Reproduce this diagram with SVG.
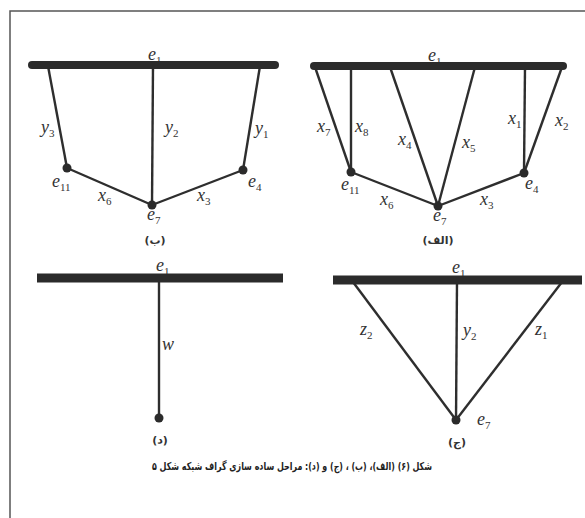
<svg xmlns="http://www.w3.org/2000/svg" width="585" height="518" viewBox="0 0 585 518">
<style>
.bar{stroke:#2b2b2b;stroke-width:8;stroke-linecap:round}
.bar2{stroke:#2b2b2b;stroke-width:9;stroke-linecap:butt}
.edge{stroke:#2e2e2e;stroke-width:2.4;fill:none}
.dot{fill:#2b2b2b}
.lbl{font-family:"Liberation Serif",serif;font-style:italic;font-size:18px;fill:#333}
.sub{font-size:11px;font-style:normal}
.fa{font-family:"DejaVu Sans","Noto Sans",sans-serif;font-size:11px;font-weight:bold;fill:#333;text-anchor:middle}
.cap{font-family:"DejaVu Sans","Noto Sans",sans-serif;font-size:11px;font-weight:bold;fill:#222;text-anchor:middle}
</style>
<rect width="585" height="518" fill="#fff"/>
<path d="M10 518 V11 H585" fill="none" stroke="#555" stroke-width="1.5"/>

<!-- Panel (ب) -->
<g id="panel-b">
<text class="lbl" x="148" y="60">e<tspan class="sub" dy="4">1</tspan></text>
<g id="b-connectors">
<line class="edge" x1="48" y1="66" x2="67" y2="168"/>
<line class="edge" x1="153" y1="66" x2="152" y2="205"/>
<line class="edge" x1="260" y1="66" x2="243" y2="170"/>
<line class="edge" x1="67" y1="168" x2="152" y2="205"/>
<line class="edge" x1="152" y1="205" x2="243" y2="170"/>
</g>
<line id="b-e1" class="bar" x1="32" y1="65" x2="275" y2="65"/>
<g id="b-e11"><circle class="dot" cx="67" cy="168" r="4.5"/><text class="lbl" x="52" y="187">e<tspan class="sub" dy="4">11</tspan></text></g>
<g id="b-e7"><circle class="dot" cx="152" cy="205" r="4.5"/><text class="lbl" x="147" y="220">e<tspan class="sub" dy="4">7</tspan></text></g>
<g id="b-e4"><circle class="dot" cx="243" cy="170" r="4.5"/><text class="lbl" x="248" y="187">e<tspan class="sub" dy="4">4</tspan></text></g>
<text class="lbl" x="41" y="133">y<tspan class="sub" dy="4">3</tspan></text>
<text class="lbl" x="165" y="133">y<tspan class="sub" dy="4">2</tspan></text>
<text class="lbl" x="255" y="134">y<tspan class="sub" dy="4">1</tspan></text>
<text class="lbl" x="98" y="201">x<tspan class="sub" dy="4">6</tspan></text>
<text class="lbl" x="197" y="201">x<tspan class="sub" dy="4">3</tspan></text>
<text class="fa" x="155" y="244" direction="rtl">(ب)</text>
</g>

<!-- Panel (الف) -->
<g id="panel-alef">
<text class="lbl" x="428" y="61">e<tspan class="sub" dy="4">1</tspan></text>
<g id="a-connectors">
<line class="edge" x1="315" y1="67" x2="351" y2="172"/>
<line class="edge" x1="351" y1="67" x2="351" y2="172"/>
<line class="edge" x1="390" y1="67" x2="438" y2="206"/>
<line class="edge" x1="475" y1="67" x2="438" y2="206"/>
<line class="edge" x1="525" y1="67" x2="524" y2="173"/>
<line class="edge" x1="562" y1="67" x2="524" y2="173"/>
<line class="edge" x1="351" y1="172" x2="438" y2="206"/>
<line class="edge" x1="438" y1="206" x2="524" y2="173"/>
</g>
<line id="a-e1" class="bar" x1="314" y1="66" x2="563" y2="66"/>
<g id="a-e11"><circle class="dot" cx="351" cy="172" r="4.5"/><text class="lbl" x="341" y="190">e<tspan class="sub" dy="4">11</tspan></text></g>
<g id="a-e7"><circle class="dot" cx="438" cy="206" r="4.5"/><text class="lbl" x="433" y="221">e<tspan class="sub" dy="4">7</tspan></text></g>
<g id="a-e4"><circle class="dot" cx="524" cy="173" r="4.5"/><text class="lbl" x="525" y="189">e<tspan class="sub" dy="4">4</tspan></text></g>
<text class="lbl" x="317" y="132">x<tspan class="sub" dy="4">7</tspan></text>
<text class="lbl" x="355" y="132">x<tspan class="sub" dy="4">8</tspan></text>
<text class="lbl" x="398" y="145">x<tspan class="sub" dy="4">4</tspan></text>
<text class="lbl" x="462" y="148">x<tspan class="sub" dy="4">5</tspan></text>
<text class="lbl" x="508" y="124">x<tspan class="sub" dy="4">1</tspan></text>
<text class="lbl" x="555" y="126">x<tspan class="sub" dy="4">2</tspan></text>
<text class="lbl" x="380" y="205">x<tspan class="sub" dy="4">6</tspan></text>
<text class="lbl" x="480" y="205">x<tspan class="sub" dy="4">3</tspan></text>
<text class="fa" x="438" y="244" direction="rtl">(الف)</text>
</g>

<!-- Panel (د) -->
<g id="panel-dal">
<text class="lbl" x="156" y="271">e<tspan class="sub" dy="4">1</tspan></text>
<g id="d-connectors">
<line class="edge" x1="159" y1="278" x2="159" y2="418"/>
</g>
<line id="d-e1" class="bar2" x1="37" y1="278" x2="283" y2="278"/>
<g id="d-node"><circle class="dot" cx="159" cy="418" r="4.5"/></g>
<text class="lbl" x="162" y="350">w</text>
<text class="fa" x="160" y="444" direction="rtl">(د)</text>
</g>

<!-- Panel (ج) -->
<g id="panel-jim">
<text class="lbl" x="452" y="273">e<tspan class="sub" dy="4">1</tspan></text>
<g id="j-connectors">
<line class="edge" x1="353" y1="282" x2="456" y2="420"/>
<line class="edge" x1="457" y1="282" x2="456" y2="420"/>
<line class="edge" x1="562" y1="282" x2="456" y2="420"/>
</g>
<line id="j-e1" class="bar2" x1="333" y1="280" x2="582" y2="280"/>
<g id="j-e7"><circle class="dot" cx="456" cy="420" r="4.5"/><text class="lbl" x="477" y="425">e<tspan class="sub" dy="4">7</tspan></text></g>
<text class="lbl" x="360" y="335">z<tspan class="sub" dy="4">2</tspan></text>
<text class="lbl" x="463" y="336">y<tspan class="sub" dy="4">2</tspan></text>
<text class="lbl" x="535" y="335">z<tspan class="sub" dy="4">1</tspan></text>
<text class="fa" x="457" y="446" direction="rtl">(ج)</text>
</g>

<text class="cap" x="292" y="470" direction="rtl" textLength="280" lengthAdjust="spacingAndGlyphs">شکل (۶) (الف)، (ب) ، (ج) و (د): مراحل ساده سازی گراف شبکه شکل ۵</text>
</svg>
